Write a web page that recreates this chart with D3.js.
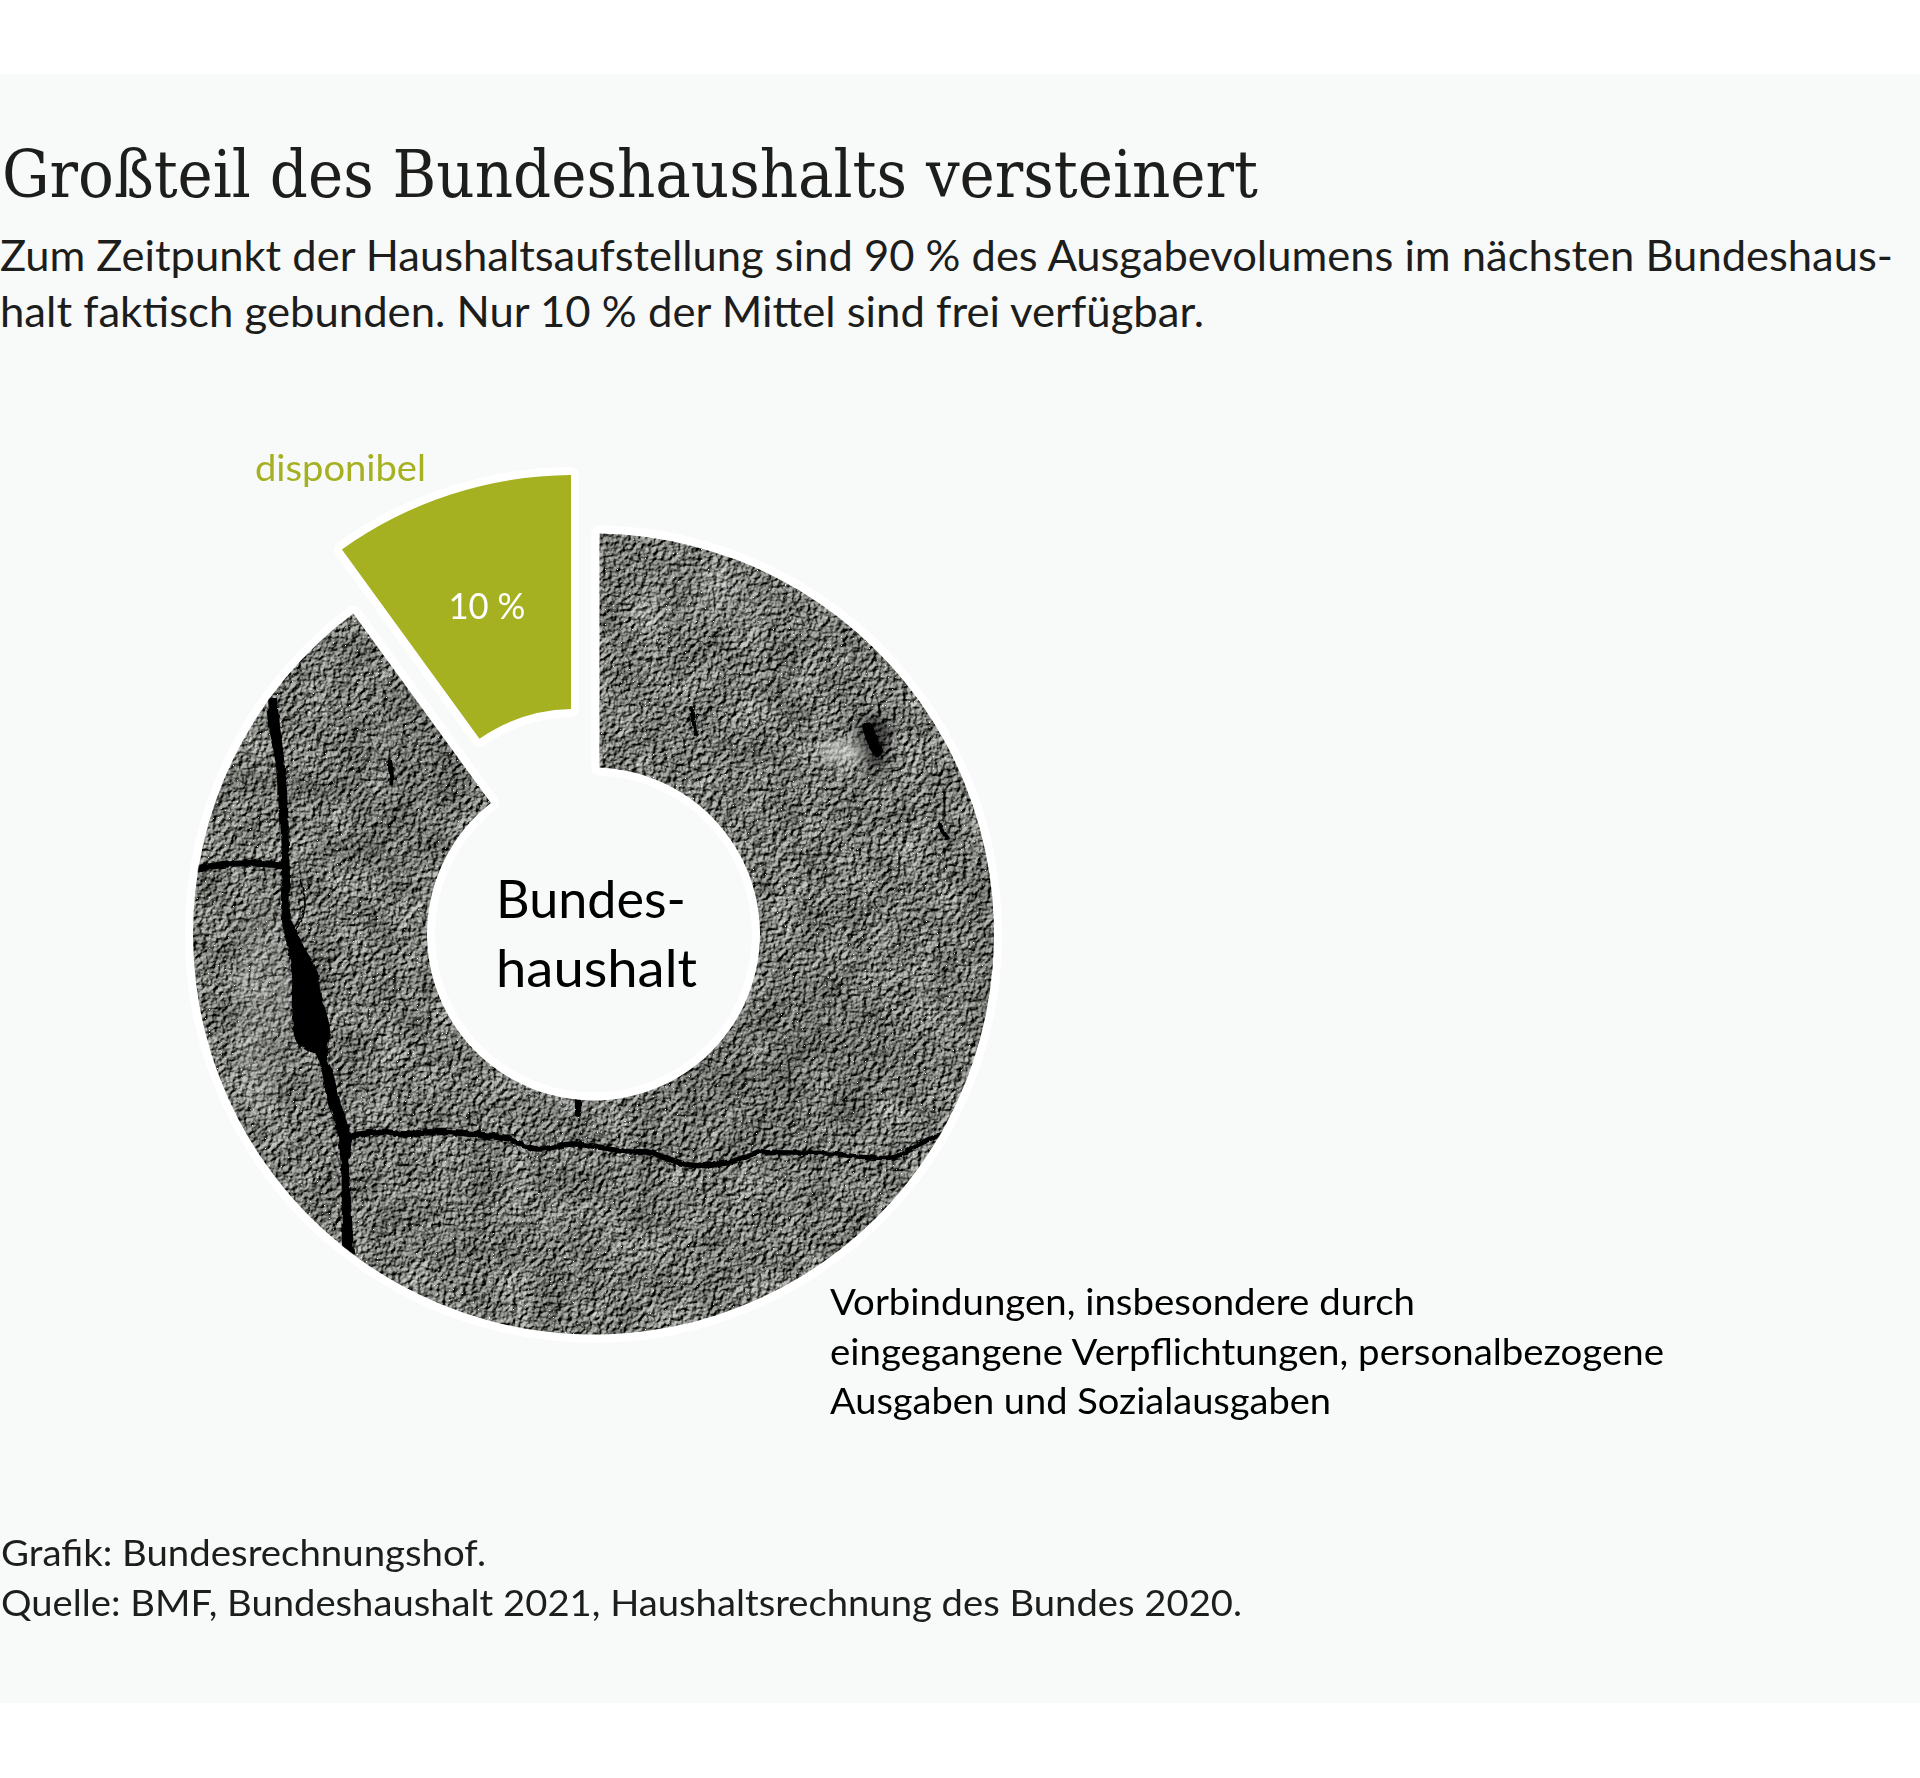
<!DOCTYPE html>
<html lang="de">
<head>
<meta charset="utf-8">
<title>Großteil des Bundeshaushalts versteinert</title>
<script src="https://cdn.jsdelivr.net/npm/d3@7/dist/d3.min.js"></script>
<style>
html,body{margin:0;padding:0;background:#fff;overflow:hidden}
svg{display:block}
</style>
</head>
<body>
<svg id="chart" width="1920" height="1778" viewBox="0 0 1920 1778" xmlns="http://www.w3.org/2000/svg">
  <defs>
    <filter id="stone" x="0" y="0" width="1" height="1" color-interpolation-filters="sRGB">
      <feTurbulence type="fractalNoise" baseFrequency="0.2" numOctaves="5" seed="11" result="fine"/>
      <feDiffuseLighting in="fine" surfaceScale="2.7" diffuseConstant="0.72" lighting-color="#ffffff" result="lit">
        <feDistantLight azimuth="225" elevation="52"/>
      </feDiffuseLighting>
      <feTurbulence type="fractalNoise" baseFrequency="0.03" numOctaves="4" seed="4" result="broad"/>
      <feColorMatrix in="broad" type="matrix" values="0.32 0 0 0 0.34  0.32 0 0 0 0.34  0.32 0 0 0 0.34  0 0 0 0 1" result="broadGray"/>
      <feComposite in="lit" in2="broadGray" operator="arithmetic" k1="0.75" k2="0.5" k3="0.12" k4="-0.07" result="mix"/>
      <feColorMatrix in="mix" type="matrix" values="1.7 0 0 0 -0.33  0 1.7 0 0 -0.322  0 0 1.7 0 -0.338  0 0 0 0 1" result="tone"/>
      <feTurbulence type="fractalNoise" baseFrequency="0.75" numOctaves="1" seed="21" result="grain"/>
      <feColorMatrix in="grain" type="matrix" values="0 0 0 0 1  0 0 0 0 1  0 0 0 0 1  16 0 0 0 -11.4" result="specks"/>
      <feMerge result="all"><feMergeNode in="tone"/><feMergeNode in="specks"/></feMerge>
      <feComposite in="all" in2="SourceAlpha" operator="in"/>
    </filter>
    <filter id="soft" x="-30%" y="-30%" width="160%" height="160%"><feGaussianBlur stdDeviation="6"/></filter>
    <filter id="rough" x="-5%" y="-5%" width="110%" height="110%">
      <feTurbulence type="fractalNoise" baseFrequency="0.12" numOctaves="2" seed="3" result="w"/>
      <feDisplacementMap in="SourceGraphic" in2="w" scale="4" xChannelSelector="R" yChannelSelector="G"/>
    </filter>
  </defs>
</svg>
<script>
// ---- data ----
const categories = ["gebunden", "disponibel"];
const shares = [90, 10];
const shareLabels = ["", "10 %"];
const titleText = "Großteil des Bundeshaushalts versteinert";
const subtitleLines = [
  "Zum Zeitpunkt der Haushaltsaufstellung sind 90 % des Ausgabevolumens im nächsten Bundeshaus-",
  "halt faktisch gebunden. Nur 10 % der Mittel sind frei verfügbar."
];
const centreLines = ["Bundes-", "haushalt"];
const noteLines = [
  "Vorbindungen, insbesondere durch",
  "eingegangene Verpflichtungen, personalbezogene",
  "Ausgaben und Sozialausgaben"
];
const footerLines = [
  "Grafik: Bundesrechnungshof.",
  "Quelle: BMF, Bundeshaushalt 2021, Haushaltsrechnung des Bundes 2020."
];

// ---- layout and style ----
const SANS = "Lato, Carlito, Calibri, sans-serif";
const SERIF = "'DejaVu Serif Condensed', 'DejaVu Serif', Cambria, serif";
const INK = "#1d1d1b", GREEN = "#a6b122", PAPER = "#f8faf9";
const cx = 593.5, cy = 934, outerR = 400.5, innerR = 166.5, explode = 61.5;
const halo = 16;

const svg = d3.select("#chart");
const defs = svg.select("defs");

svg.append("rect").attr("x", 0).attr("y", 74).attr("width", 1920).attr("height", 1629).attr("fill", PAPER);

function label(parent, x, y, str, o) {
  const t = parent.append("text").attr("x", x).attr("y", y).text(str)
    .attr("font-family", o.family || SANS).attr("font-size", o.size)
    .attr("fill", o.fill || INK).attr("text-anchor", o.anchor || "start")
    .style("font-kerning", "normal");
  if (o.stretch) t.style("font-stretch", o.stretch);
  if (o.width) t.attr("textLength", o.width).attr("lengthAdjust", "spacingAndGlyphs");
  return t;
}

// ---- headline ----
label(svg, 2, 197, titleText, {family: SERIF, stretch: "condensed", size: 65, width: 1256});
const subW = [1893, 1204];
subtitleLines.forEach((s, i) => label(svg, 0, 271 + i * 56, s, {size: 42, width: subW[i]}));

// ---- ring ----
const TAU = 2 * Math.PI;
const pie = d3.pie().sort(null).startAngle(0).endAngle(TAU);
const arcs = pie(shares);
const padPx = [6, 3.5];
const padR = 400;
const arc = d3.arc().innerRadius(innerR).outerRadius(outerR).padRadius(padR);
const pathOf = (d, i) => arc({...d, padAngle: 2 * padPx[i] / padR});

const ring = svg.append("g").attr("transform", `translate(${cx},${cy})`);
const slices = ring.selectAll("g.slice").data(arcs).join("g").attr("class", "slice")
  .attr("transform", (d, i) => {
    if (i === 0) return null;
    const mid = (d.startAngle + d.endAngle) / 2;
    return `translate(${explode * Math.sin(mid)},${-explode * Math.cos(mid)})`;
  });

// white halo behind every slice, then the fill on top
slices.append("path").attr("d", pathOf)
  .attr("fill", "#fff").attr("stroke", "#fff").attr("stroke-width", halo).attr("stroke-linejoin", "round");

slices.filter((d, i) => i === 1).append("path").attr("d", d => pathOf(d, 1)).attr("fill", GREEN);

// stone surface of the bound share, clipped to its arc
defs.append("clipPath").attr("id", "mainClip").append("path").attr("d", pathOf(arcs[0], 0));
const rock = slices.filter((d, i) => i === 0).append("g").attr("clip-path", "url(#mainClip)")
  .append("g").attr("transform", `translate(${-cx},${-cy})`);
rock.append("rect").attr("x", 180).attr("y", 520).attr("width", 830).attr("height", 830)
  .attr("fill", "#777").attr("filter", "url(#stone)");

// pale and dark zones of the surface
const blotches = [[843,752,24,11,"#e4e6e1",.6],[873,742,17,26,"#000",.55],[262,1010,28,110,"#c6c9c3",.18],[405,780,60,90,"#000",.07],[780,1060,120,80,"#000",.07],[700,600,70,30,"#fff",.07],[560,1040,50,40,"#fff",.06],[572,1100,22,10,"#fff",.28]];
rock.append("g").attr("filter", "url(#soft)").selectAll("ellipse").data(blotches).join("ellipse")
  .attr("cx", d => d[0]).attr("cy", d => d[1]).attr("rx", d => d[2]).attr("ry", d => d[3])
  .attr("fill", d => d[4]).attr("opacity", d => d[5]);

// fissures of the rock (picture content, not chart values)
const wideCrack = [[267,698],[270,733],[276,767],[278,800],[281,833],[282,867],[281,900],[283,927],[288,950],[292,977],[292,1007],[297,1043],[317,1057],[322,1073],[327,1100],[336,1127],[341,1167],[342,1247],[345,1300],
  [357,1300],[354,1253],[351,1200],[349,1167],[351,1140],[340,1100],[333,1073],[327,1057],[330,1030],[323,1000],[317,970],[302,943],[291,917],[290,877],[289,847],[288,807],[285,767],[281,733],[277,698]];
const thinCracks = [
  {w: 7, p: [[190,868],[198,868],[238,863],[284,865]]},
  {w: 6.5, p: [[343,1137],[384,1132],[399,1134],[445,1132],[507,1138]]},
  {w: 5.5, p: [[507,1138],[537,1149],[573,1144],[629,1152],[647,1152],[690,1165],[726,1163],[757,1152]]},
  {w: 4.5, p: [[757,1152],[818,1153],[894,1157],[915,1146],[950,1130]]},
  {w: 1.6, p: [[300,880],[305,905],[296,930]]},
  {w: 6, p: [[578,1098],[578,1114]]},
  {w: 4, p: [[691,708],[696,735]]},
  {w: 11, p: [[868,728],[873,742],[878,752]]},
  {w: 5, p: [[390,762],[392,783]]},
  {w: 4.5, p: [[940,825],[946,838]]}
];
const line = d3.line().curve(d3.curveCatmullRom);
const crackG = rock.append("g").attr("filter", "url(#rough)");
crackG.append("path").attr("d", line(wideCrack) + "Z").attr("fill", "#000");
crackG.selectAll("path.thin").data(thinCracks).join("path").attr("class", "thin")
  .attr("d", d => line(d.p)).attr("fill", "none").attr("stroke", "#000")
  .attr("stroke-width", d => d.w).attr("stroke-linecap", "round");

// ---- slice labels ----
const g = slices.filter((d, i) => i === 1);
const c = arc.centroid(arcs[1]);
label(g, c[0], c[1] + 13.5, shareLabels[1], {size: 36, fill: "#fff", anchor: "middle", width: 77});
label(svg, 255, 481, categories[1], {size: 36, fill: GREEN, width: 171});

// ---- centre caption ----
const centreW = [190, 201];
centreLines.forEach((s, i) => label(svg, 496, 918 + i * 69, s, {size: 53, fill: "#000", width: centreW[i]}));

// ---- note and footer ----
const noteW = [585, 834, 501];
noteLines.forEach((s, i) => label(svg, 830, 1315 + i * 49.5, s, {size: 37.5, fill: "#000", width: noteW[i]}));
const footW = [485, 1241];
footerLines.forEach((s, i) => label(svg, 1, 1566 + i * 50, s, {size: 37, width: footW[i]}));
</script>
</body>
</html>
